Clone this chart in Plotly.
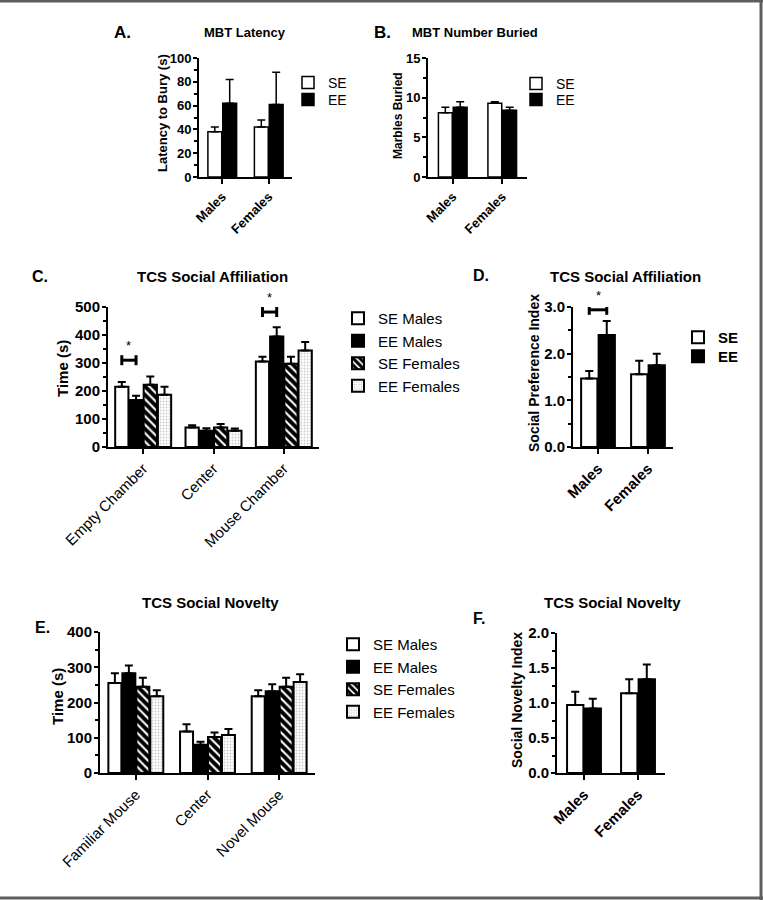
import plotly.graph_objects as go

W, H = 763, 900
FONT = "Arial, 'Liberation Sans', sans-serif"

# ---- data ----
sex = ["Males", "Females"]

mbt_latency_se = [38, 42]
mbt_latency_ee = [62, 61]
mbt_latency_se_err = [4, 6]
mbt_latency_ee_err = [20, 27]

mbt_buried_se = [8.1, 9.3]
mbt_buried_ee = [8.8, 8.4]
mbt_buried_se_err = [0.7, 0.2]
mbt_buried_ee_err = [0.7, 0.4]

aff_chambers = ["Empty Chamber", "Center", "Mouse Chamber"]
aff_se_males = [215, 70, 305]
aff_ee_males = [168, 58, 395]
aff_se_females = [222, 70, 297]
aff_ee_females = [187, 58, 345]
aff_se_males_err = [17, 8, 17]
aff_ee_males_err = [15, 9, 33]
aff_se_females_err = [30, 12, 25]
aff_ee_females_err = [28, 8, 30]

pref_se = [1.47, 1.56]
pref_ee = [2.40, 1.75]
pref_se_err = [0.16, 0.29]
pref_ee_err = [0.30, 0.25]

nov_chambers = ["Familiar Mouse", "Center", "Novel Mouse"]
nov_se_males = [255, 118, 218]
nov_ee_males = [283, 80, 232]
nov_se_females = [245, 102, 245]
nov_ee_females = [218, 108, 258]
nov_se_males_err = [28, 20, 17]
nov_ee_males_err = [22, 9, 20]
nov_se_females_err = [25, 13, 25]
nov_ee_females_err = [17, 17, 22]

novidx_se = [0.97, 1.14]
novidx_ee = [0.92, 1.34]
novidx_se_err = [0.19, 0.20]
novidx_ee_err = [0.14, 0.21]

# ---- styles ----
STYLE = {
    "SE": dict(color="white"),
    "EE": dict(color="black"),
    "SE Males": dict(color="white"),
    "EE Males": dict(color="black"),
    "SE Females": dict(color="white", pattern=dict(shape="\\", fgcolor="black", bgcolor="white",
                                                    fgopacity=1, size=6, solidity=0.65)),
    "EE Females": dict(color="white", pattern=dict(shape=".", fgcolor="#999999", bgcolor="white",
                                                    size=3, solidity=0.3)),
}

fig = go.Figure()


def px_x(p):
    return p / W


def px_y(p):
    return 1 - p / H


def bold(size):
    return dict(family=FONT, size=size, color="black", weight="bold")


def reg(size):
    return dict(family=FONT, size=size, color="black")


def panel(k, cats, series, names, dom_x, dom_y, yrange, dtick, minor, group_w, lw,
          tick_font, xlab_font, legends=None):
    ax = "" if k == 1 else str(k)
    n = len(series)
    step = group_w / n
    w = step * 0.93
    for i, ((vals, errs), name) in enumerate(zip(series, names)):
        st = STYLE[name]
        marker = dict(color=st["color"], line=dict(color="black", width=lw))
        if "pattern" in st:
            marker["pattern"] = st["pattern"]
        fig.add_trace(go.Bar(
            x=cats, y=vals, name=name, marker=marker,
            width=w, offset=-group_w / 2 + i * step + (step - w) / 2,
            error_y=dict(type="data", array=errs, arrayminus=[0] * len(errs), symmetric=False,
                         color="black", thickness=lw, width=4),
            xaxis="x" + ax, yaxis="y" + ax,
            showlegend=legends is not None, legend=legends[i] if legends else "legend",
        ))
    fig.update_layout(**{
        "xaxis" + ax: dict(domain=[px_x(dom_x[0]), px_x(dom_x[1])], anchor="y" + ax,
                           range=[-0.5, len(cats) - 0.5], type="category", automargin=False,
                           showline=True, linecolor="black", linewidth=2,
                           ticks="outside", ticklen=5, tickwidth=2, tickcolor="black",
                           tickangle=-45, tickfont=xlab_font, showgrid=False),
        "yaxis" + ax: dict(domain=[px_y(dom_y[1]), px_y(dom_y[0])], anchor="x" + ax,
                           range=yrange, dtick=dtick, showline=True, linecolor="black",
                           linewidth=2, ticks="outside", ticklen=4, tickwidth=2, automargin=False,
                           tickcolor="black", showgrid=False, zeroline=False,
                           tickfont=tick_font, ticklabelstandoff=-1,
                           minor=dict(dtick=minor, ticks="outside", ticklen=3, tickwidth=1.5,
                                      tickcolor="black", showgrid=False)),
    })


# A. MBT latency
panel(1, sex, [(mbt_latency_se, mbt_latency_se_err), (mbt_latency_ee, mbt_latency_ee_err)],
      ["SE", "EE"], (199, 292), (58, 177), [0, 100], 20, 10, 0.64, 1.5,
      bold(13), bold(13), legends=["legend", "legend2"])
# B. MBT number buried
panel(2, sex, [(mbt_buried_se, mbt_buried_se_err), (mbt_buried_ee, mbt_buried_ee_err)],
      ["SE", "EE"], (428, 527), (58, 177), [0, 15], 5, 2.5, 0.6, 1.5,
      bold(13), bold(13), legends=["legend3", "legend4"])
# C. TCS social affiliation
aff_series = [(aff_se_males, aff_se_males_err), (aff_ee_males, aff_ee_males_err),
              (aff_se_females, aff_se_females_err), (aff_ee_females, aff_ee_females_err)]
four = ["SE Males", "EE Males", "SE Females", "EE Females"]
panel(3, aff_chambers, aff_series, four, (108, 319), (307, 447), [0, 500], 100, 50,
      0.81, 2, bold(15), reg(15), legends=["legend5"] * 4)
# D. social preference index
panel(4, sex, [(pref_se, pref_se_err), (pref_ee, pref_ee_err)], ["SE", "EE"],
      (573, 673), (307, 447), [0, 3], 1, 0.5, 0.7, 2,
      bold(15), bold(15), legends=["legend6", "legend7"])
fig.update_layout(yaxis4=dict(tickformat=".1f"))
# E. TCS social novelty
nov_series = [(nov_se_males, nov_se_males_err), (nov_ee_males, nov_ee_males_err),
              (nov_se_females, nov_se_females_err), (nov_ee_females, nov_ee_females_err)]
panel(5, nov_chambers, nov_series, four, (100, 315), (632, 773), [0, 400], 100, 50,
      0.78, 2, bold(15), reg(15), legends=["legend8"] * 4)
# F. social novelty index
panel(6, sex, [(novidx_se, novidx_se_err), (novidx_ee, novidx_ee_err)], ["SE", "EE"],
      (557, 665), (633, 773), [0, 2], 0.5, 0.25, 0.65, 2,
      bold(15), bold(15))
fig.update_layout(yaxis6=dict(tickformat=".1f"))

# significance brackets: (axis, category index, group width, bars, y)
sig = [("3", 0, 0.81, 4, 310), ("3", 2, 0.81, 4, 482), ("4", 0, 0.7, 2, 2.94)]
for ax, ci, gw, nb, yv in sig:
    st = gw / nb
    x0 = ci - gw / 2 + st / 2
    x1 = x0 + st
    xr, yr = "x" + ax, "y" + ax
    fig.add_shape(type="line", xref=xr, yref=yr, x0=x0, x1=x1, y0=yv, y1=yv,
                  line=dict(color="black", width=3))
    for xe in (x0, x1):
        fig.add_shape(type="line", xref=xr, yref=yr, x0=xe, x1=xe, ysizemode="pixel",
                      yanchor=yv, y0=-5, y1=5, line=dict(color="black", width=3))
    fig.add_annotation(xref=xr, yref=yr, x=(x0 + x1) / 2, y=yv, yshift=5, text="*",
                       showarrow=False, font=reg(13), yanchor="bottom")

# titles and panel letters
titles = [("A.", 122, 32, 17), ("B.", 382, 32, 17), ("C.", 40, 277, 16), ("D.", 481, 275, 16),
          ("E.", 42, 627, 16), ("F.", 479, 618, 16),
          ("MBT Latency", 245, 32, 13), ("MBT Number Buried", 475, 32, 13),
          ("TCS Social Affiliation", 213, 277, 15), ("TCS Social Affiliation", 625, 277, 15),
          ("TCS Social Novelty", 210, 602, 15), ("TCS Social Novelty", 612, 602, 15)]
for text, x, y, s in titles:
    fig.add_annotation(xref="paper", yref="paper", x=px_x(x), y=px_y(y), text=text,
                       showarrow=False, font=bold(s), xanchor="center", yanchor="middle")

# y-axis titles
ytitles = [("Latency to Bury (s)", 163, 113, 13), ("Marbles Buried", 398, 115, 12),
           ("Time (s)", 62, 368, 15), ("Social Preference Index", 534, 373, 14),
           ("Time (s)", 57, 697, 15), ("Social Novelty Index", 517, 700, 14)]
for text, x, y, s in ytitles:
    fig.add_annotation(xref="paper", yref="paper", x=px_x(x), y=px_y(y), text=text,
                       textangle=-90, showarrow=False, font=bold(s),
                       xanchor="center", yanchor="middle")

# page frame
for x0, y0, x1, y1 in [(0, 1, W, 1), (W - 2, 0, W - 2, H), (0, H - 2, W, H - 2)]:
    fig.add_shape(type="line", xref="paper", yref="paper", x0=px_x(x0), x1=px_x(x1),
                  y0=px_y(y0), y1=px_y(y1), line=dict(color="#5e5e5e", width=3))


def leg(x, y, size, weight="normal"):
    return dict(x=px_x(x), y=px_y(y), xanchor="left", yanchor="top", bgcolor="rgba(0,0,0,0)",
                font=dict(family=FONT, size=size, color="black", weight=weight),
                itemwidth=30, tracegroupgap=0)


fig.update_layout(
    width=W, height=H, autosize=False,
    margin=dict(l=0, r=0, t=0, b=0, autoexpand=False),
    paper_bgcolor="white", plot_bgcolor="white",
    barmode="overlay",
    font=dict(family=FONT, color="black"),
    legend=leg(288, 67, 14), legend2=leg(288, 84, 14),
    legend3=leg(516, 68, 14), legend4=leg(516, 84, 14),
    legend5=leg(338, 302, 15),
    legend6=leg(678, 321, 15, "bold"), legend7=leg(678, 340, 15, "bold"),
    legend8=leg(333, 628, 15),
)

fig.write_html("out.html", config={"displayModeBar": False},
               post_script="document.body.style.margin='0px';")
